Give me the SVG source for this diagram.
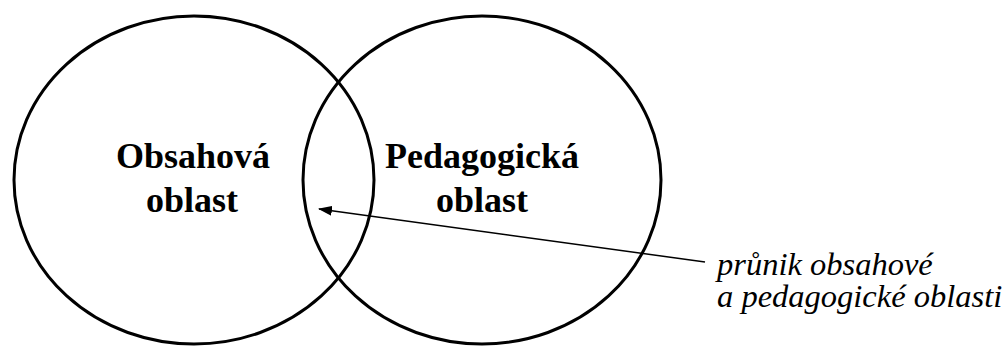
<svg xmlns="http://www.w3.org/2000/svg" width="1003" height="347" viewBox="0 0 1003 347">
<style>
.c{fill:none;stroke:#000;stroke-width:3}
.b{font-family:'Liberation Serif','Times New Roman',serif;font-weight:bold;font-size:36px;text-anchor:middle;fill:#000}
.i{font-family:'Liberation Serif','Times New Roman',serif;font-style:italic;font-size:32.5px;fill:#000}
</style>
<defs>
<marker id="ah" markerWidth="14" markerHeight="10" refX="13" refY="5" orient="auto" markerUnits="userSpaceOnUse">
<path d="M0,0 L14,5 L0,10 Z" fill="#000"/>
</marker>
</defs>
<g id="left">
<ellipse class="c" cx="194" cy="180" rx="180" ry="164"/>
<text class="b" x="193" y="168">Obsahová</text>
<text class="b" x="192" y="212">oblast</text>
</g>
<g id="right">
<ellipse class="c" cx="482" cy="180" rx="179" ry="164"/>
<text class="b" x="482" y="168">Pedagogická</text>
<text class="b" x="482" y="212">oblast</text>
</g>
<g id="connectors">
<line x1="705" y1="262" x2="319" y2="209" stroke="#000" stroke-width="1.5" marker-end="url(#ah)"/>
</g>
<g id="label">
<text class="i" x="717" y="275">průnik obsahové</text>
<text class="i" x="717" y="307">a pedagogické oblasti</text>
</g>
</svg>
